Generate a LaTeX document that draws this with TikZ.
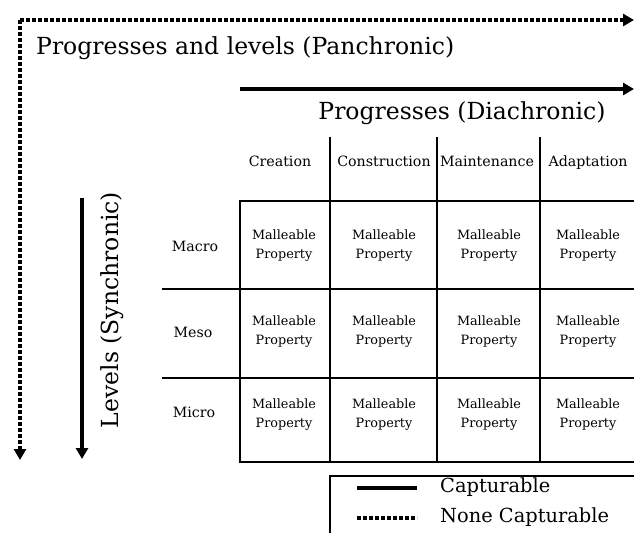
\documentclass[tikz,border=0pt]{standalone}
\usepackage{fontspec}
\setmainfont{DejaVu Serif}
\usetikzlibrary{arrows.meta}

\tikzset{
  solidarrow/.style={line width=3.5pt, -{Triangle[length=11pt,width=12pt]}},
  dotarrow/.style={line width=3.5pt, dash pattern=on 3.5pt off 2.5pt, -{Triangle[length=11pt,width=12pt]}},
  gridline/.style={line width=1.3pt},
  bigtext/.style={font=\fontsize{23.5}{26}\selectfont, inner sep=0pt},
  celltext/.style={font=\fontsize{12.8}{19}\selectfont, align=center, inner sep=0pt},
  headtext/.style={font=\fontsize{14.2}{16}\selectfont, inner sep=0pt, anchor=base},
  legendtext/.style={font=\fontsize{19.4}{22}\selectfont, anchor=west, inner sep=0pt}
}

\begin{document}
\begin{tikzpicture}[x=1pt,y=-1pt]
\useasboundingbox (0,0) rectangle (634,533);

% Panchronic frame (dotted)
\coordinate (pcorner) at (20,20);
\coordinate (pright) at (634,20);
\coordinate (pdown) at (20,460);
\draw[dotarrow] (pcorner) -- (pright);
\draw[dotarrow] (pcorner) -- (pdown);
\node[bigtext, anchor=west] (pantitle) at (36,48) {Progresses and levels (Panchronic)};

% Diachronic axis
\coordinate (dstart) at (240,89);
\coordinate (dend) at (634,89);
\draw[solidarrow] (dstart) -- (dend);
\node[bigtext] (diatitle) at (462,113) {Progresses (Diachronic)};

% Synchronic axis
\coordinate (sstart) at (82,198);
\coordinate (send) at (82,459);
\draw[solidarrow] (sstart) -- (send);
\node[bigtext, rotate=90] (syntitle) at (112,310) {Levels (Synchronic)};

% Column headers
\node[headtext] (hcre) at (280,166) {Creation};
\node[headtext] (hcon) at (384,166) {Construction};
\node[headtext] (hmai) at (487,166) {Maintenance};
\node[headtext] (hada) at (588,166) {Adaptation};

% Row headers
\node[headtext] (rmac) at (195,251) {Macro};
\node[headtext] (rmes) at (193,337) {Meso};
\node[headtext] (rmic) at (194,417) {Micro};

% Grid
\draw[gridline] (634,201) -- (240,201) -- (240,462) -- (634,462);
\draw[gridline] (162,289) -- (634,289);
\draw[gridline] (162,378) -- (634,378);
\foreach \x in {330,437,540} {
  \draw[gridline] (\x,137) -- (\x,462);
}

% Cells
\foreach \cx/\cn in {284/a,384/b,489/c,588/d} {
  \foreach \cy/\rn in {246/a,332/b,415/c} {
    \node[celltext] (cell\cn\rn) at (\cx,\cy) {Malleable\\Property};
  }
}

% Legend
\draw[gridline] (330,533) -- (330,476) -- (634,476);
\coordinate (lsa) at (357,488);
\coordinate (lsb) at (417,488);
\coordinate (lda) at (357,518);
\coordinate (ldb) at (417,518);
\draw[line width=3.5pt] (lsa) -- (lsb);
\draw[line width=3.5pt, dash pattern=on 3.5pt off 2.5pt] (lda) -- (ldb);
\node[legendtext] (lcap) at (440,487) {Capturable};
\node[legendtext] (lnon) at (440,517) {None Capturable};
\end{tikzpicture}
\end{document}
